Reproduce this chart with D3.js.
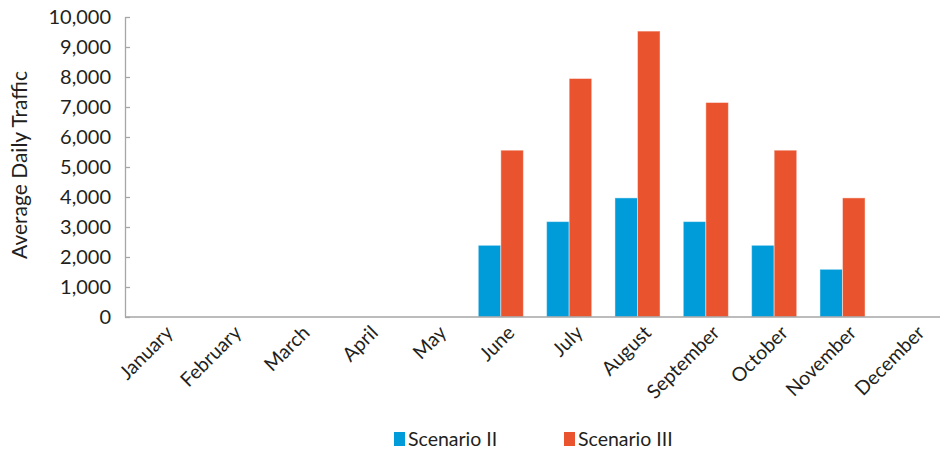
<!DOCTYPE html>
<html>
<head>
<meta charset="utf-8">
<script src="https://cdn.jsdelivr.net/npm/d3@7"></script>
<style>
  html, body { margin: 0; padding: 0; background: #fff; }
  svg { display: block; font-family: Lato, "Open Sans", sans-serif; }
</style>
</head>
<body>
<svg id="chart" width="940" height="451"></svg>
<script>
// Monthly average daily traffic for two scenarios
const months = ["January", "February", "March", "April", "May", "June",
                "July", "August", "September", "October", "November", "December"];
const seriesNames = ["Scenario II", "Scenario III"];
const scenarioII  = [null, null, null, null, null, 2390, 3180, 3970, 3180, 2390, 1590, null];
const scenarioIII = [null, null, null, null, null, 5560, 7950, 9530, 7150, 5560, 3970, null];
const yTicks = [0, 1000, 2000, 3000, 4000, 5000, 6000, 7000, 8000, 9000, 10000];
const colors = ["#009bd9", "#e9532d"];

const svg = d3.select("#chart");
const plotLeft = 125, plotRight = 945, plotTop = 17, plotBottom = 317;

const x = d3.scaleBand().domain(months).range([plotLeft, plotRight]).padding(0);
const bw = x.bandwidth();
const x1 = d3.scaleBand().domain(seriesNames).range([bw * 0.17, bw * 0.83]).padding(0);
const y = d3.scaleLinear().domain([0, 10000]).range([plotBottom, plotTop]);

const axisColor = "#a6a6a6";
const textColor = "#231f20";

// Y axis with inward ticks
const yAxis = svg.append("g")
  .attr("transform", `translate(${plotLeft},0)`)
  .call(d3.axisLeft(y).tickValues(yTicks).tickSizeInner(-5).tickSizeOuter(0)
    .tickPadding(14).tickFormat(d3.format(",")));
yAxis.select(".domain").attr("stroke", axisColor).attr("stroke-width", 1.3);
yAxis.selectAll(".tick line").attr("stroke", axisColor).attr("stroke-width", 1.3);
yAxis.selectAll(".tick text").attr("fill", textColor).attr("font-size", 20)
  .attr("font-family", "Lato, sans-serif");

// Bars
const series = [scenarioII, scenarioIII];
series.forEach((vals, si) => {
  svg.append("g").selectAll("rect")
    .data(months.map((m, i) => ({ m, v: vals[i] })).filter(d => d.v != null))
    .join("rect")
    .attr("x", d => x(d.m) + x1(seriesNames[si]))
    .attr("width", x1.bandwidth())
    .attr("y", d => y(d.v))
    .attr("height", d => y(0) - y(d.v))
    .attr("fill", colors[si])
    .attr("stroke", "#ffffff")
    .attr("stroke-opacity", 0.45)
    .attr("stroke-width", 1);
});

// X axis baseline and rotated month labels
const xAxis = svg.append("g")
  .attr("transform", `translate(0,${plotBottom})`)
  .call(d3.axisBottom(x).tickSize(0).tickPadding(0));
xAxis.select(".domain").attr("stroke", axisColor).attr("stroke-width", 1.6)
  .attr("d", `M${plotLeft},0H940`);
xAxis.selectAll(".tick text")
  .attr("fill", textColor)
  .attr("font-size", 19.5)
  .attr("font-family", "Lato, sans-serif")
  .attr("text-anchor", "end")
  .attr("dy", 0)
  .attr("transform", "translate(15,17) rotate(-45)");

// Y axis title
svg.append("text")
  .attr("transform", "translate(27,165) rotate(-90)")
  .attr("text-anchor", "middle")
  .attr("font-size", 21)
  .attr("fill", textColor)
  .text("Average Daily Traffic");

// Legend
const legendX = [394, 564];
const legend = svg.append("g");
seriesNames.forEach((name, i) => {
  legend.append("rect")
    .attr("x", legendX[i]).attr("y", 432)
    .attr("width", 11).attr("height", 14)
    .attr("fill", colors[i]);
  legend.append("text")
    .attr("x", legendX[i] + 14).attr("y", 445.5)
    .attr("font-size", 19.5)
    .attr("fill", textColor)
    .text(name);
});
</script>
</body>
</html>
